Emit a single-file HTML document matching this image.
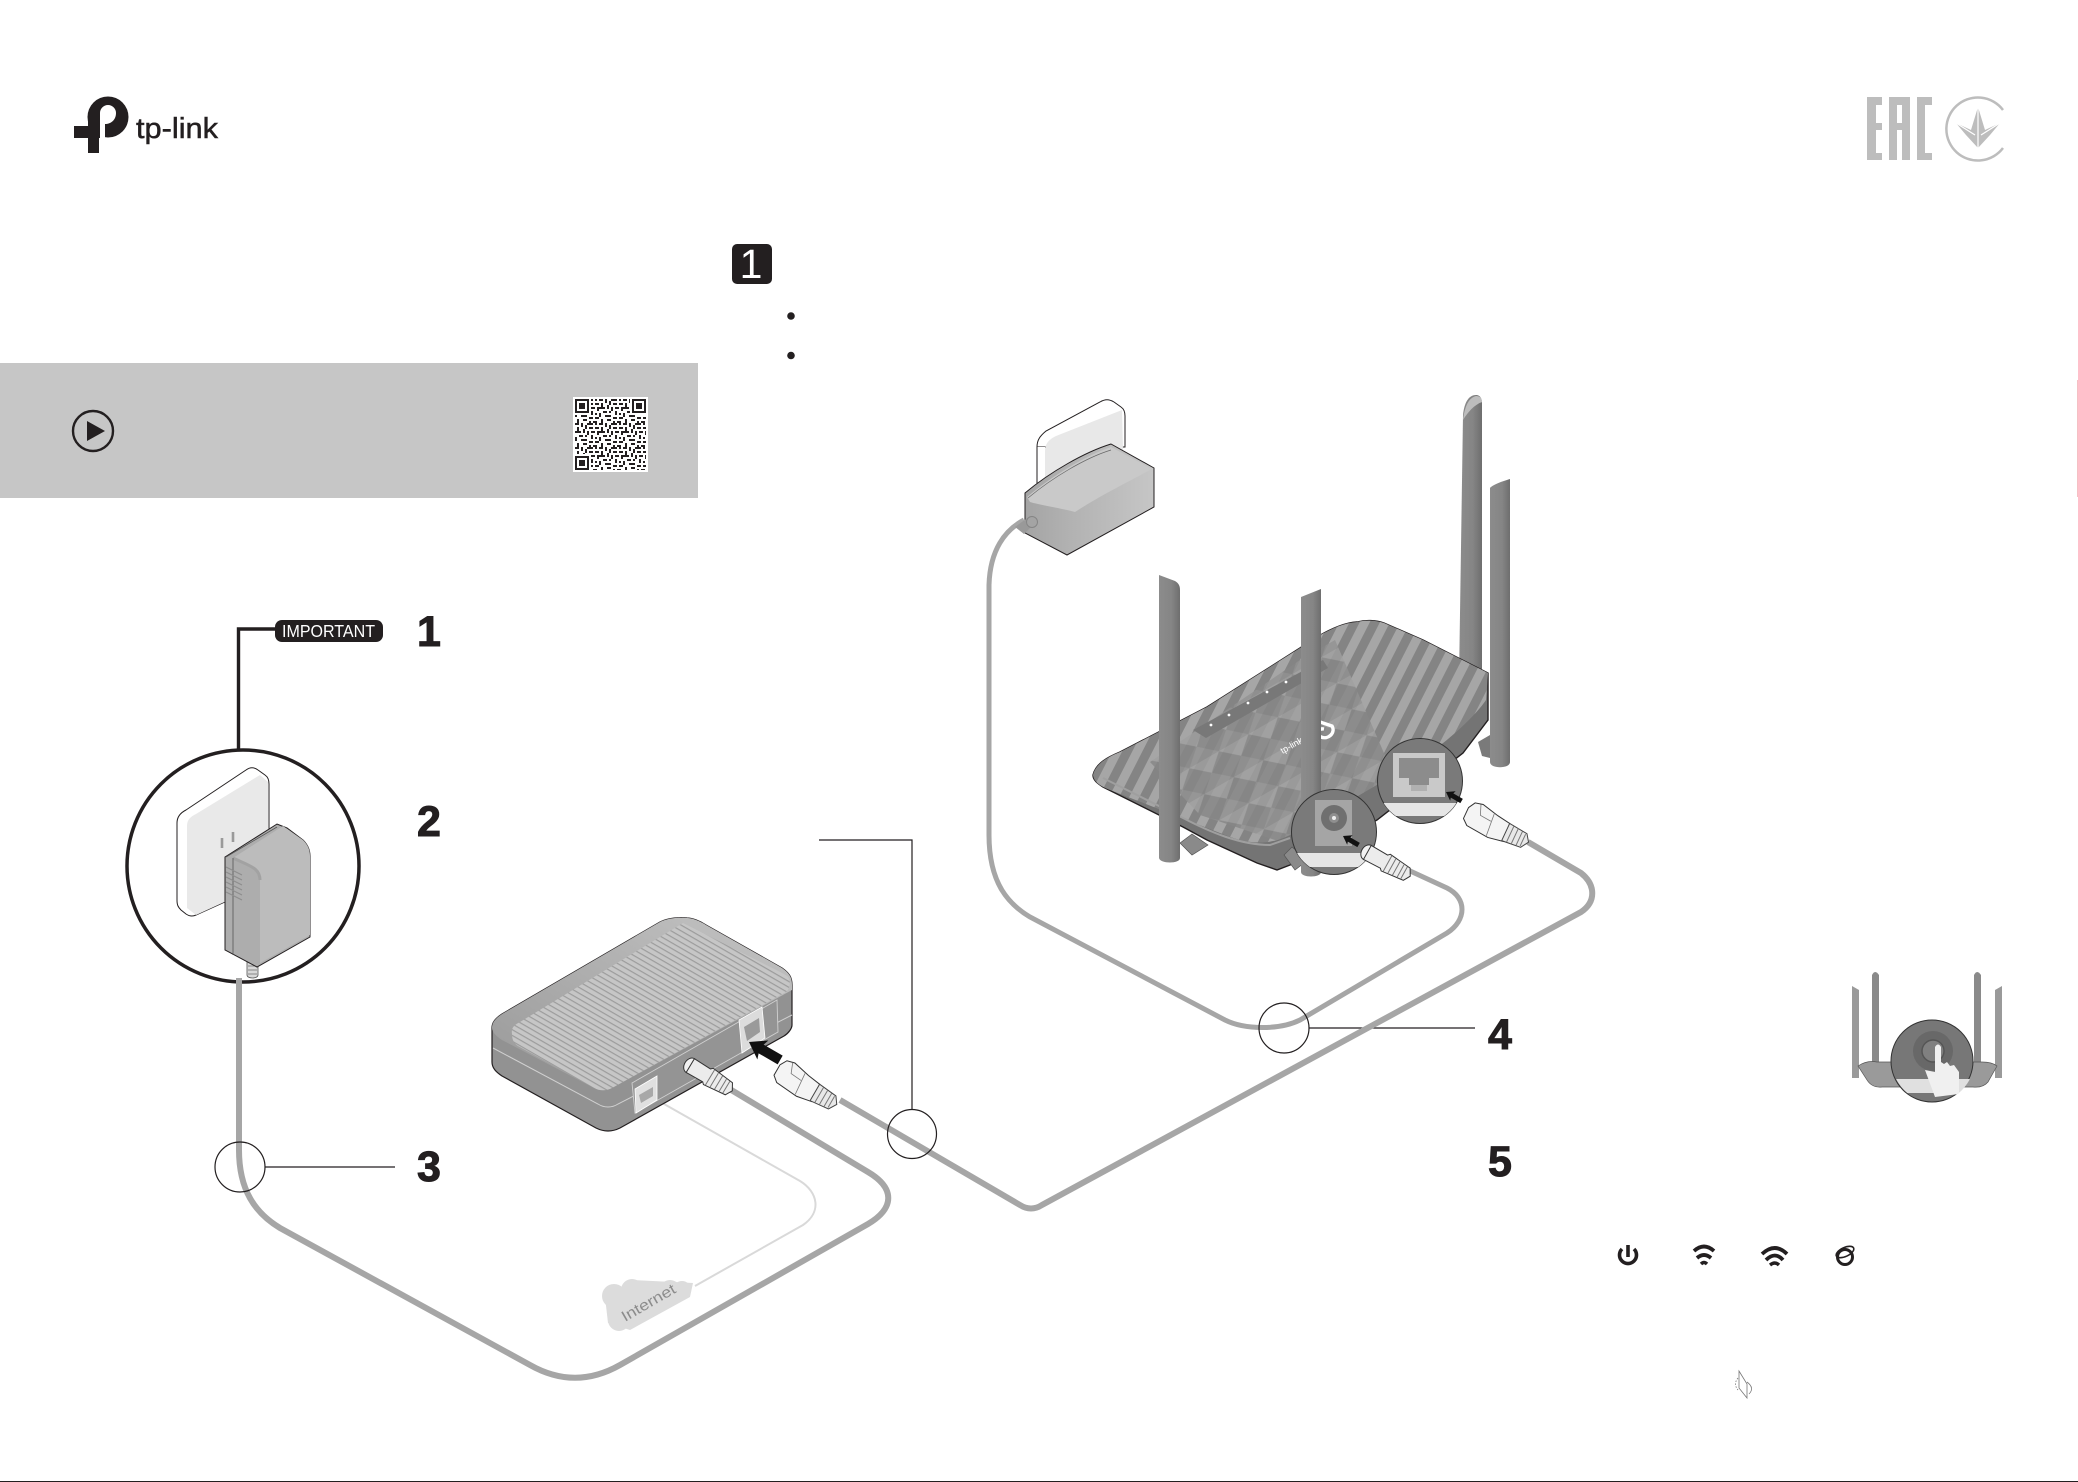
<!DOCTYPE html>
<html><head><meta charset="utf-8">
<style>html,body{margin:0;padding:0;background:#fff}svg{display:block}text{font-family:"Liberation Sans",sans-serif}</style>
</head><body>
<svg xmlns="http://www.w3.org/2000/svg" width="2078" height="1482" viewBox="0 0 2078 1482">
<defs>
<linearGradient id="ant" x1="0" x2="1" y1="0" y2="0"><stop offset="0" stop-color="#8c8c8c"/><stop offset=".6" stop-color="#858585"/><stop offset="1" stop-color="#6e6e6e"/></linearGradient>
<linearGradient id="modTop" x1="0" x2="1" y1="1" y2="0"><stop offset="0" stop-color="#989898"/><stop offset="1" stop-color="#c4c4c4"/></linearGradient>
<linearGradient id="adp" x1="0" x2="1" y1="0" y2="0"><stop offset="0" stop-color="#a4a4a4"/><stop offset=".35" stop-color="#b2b2b2"/><stop offset="1" stop-color="#c6c6c6"/></linearGradient>
<pattern id="stripes" width="18" height="18" patternUnits="userSpaceOnUse" patternTransform="rotate(27)"><rect width="18" height="18" fill="#848484"/><rect width="9" height="18" fill="#a6a6a6"/></pattern>
<pattern id="facets" width="34" height="30" patternUnits="userSpaceOnUse" patternTransform="rotate(-30)"><rect width="34" height="30" fill="#929292"/><path d="M0 0L17 15L0 30ZM34 0L17 15L34 30Z" fill="#868686"/><path d="M17 15L34 0H0Z" fill="#a0a0a0"/></pattern>
<pattern id="ribs" width="12" height="5" patternUnits="userSpaceOnUse" patternTransform="rotate(30)"><rect width="12" height="5" fill="#c6c6c6"/><rect y="0" width="12" height="1.2" fill="#9c9c9c"/></pattern>
<pattern id="qr" x="575" y="399" width="24" height="24" patternUnits="userSpaceOnUse"><path d="M0 0h4v2h-4zM6 0h2v4h-2zM12 0h6v2h-6zM20 0h2v2h-2zM2 4h2v4h-2zM10 2h2v4h-2zM14 4h4v2h-4zM20 4h4v2h-4zM0 8h6v2h-6zM8 6h2v4h-2zM12 8h2v4h-2zM16 8h4v2h-4zM22 8h2v4h-2zM4 12h4v2h-4zM10 12h2v2h-2zM16 12h2v4h-2zM20 14h2v2h-2zM0 14h2v4h-2zM6 16h6v2h-6zM14 18h4v2h-4zM20 18h4v2h-4zM2 20h2v4h-2zM8 20h4v2h-4zM14 22h2v2h-2zM18 22h4v2h-4z" fill="#231f20"/></pattern>
<clipPath id="rTop"><path d="M1093,775C1096,763 1108,757 1120,752L1207,707L1300,648C1320,634 1340,623 1357,622C1365,620 1376,620 1384,623L1423,640L1488,673L1486,700C1476,715 1450,740 1420,760L1290,835C1270,845 1250,845 1225,835L1110,790C1100,786 1094,782 1093,775Z"/></clipPath>
<clipPath id="cR"><circle cx="1420" cy="781" r="42.5"/></clipPath>
<clipPath id="cJ"><circle cx="1334" cy="832" r="42.5"/></clipPath>
<clipPath id="cS"><circle cx="1933" cy="1061" r="41"/></clipPath>
<g id="arrow"><path d="M0,0L16,-11L14,-5L36,-5L36,5L14,5L16,11Z" fill="#111"/></g>
<g id="rj">
<path d="M0,-6L4,-13L12,-15L30,-11L44,-9L46,10L30,13L6,11L0,6Z" fill="#f4f4f4" stroke="#333" stroke-width="1"/>
<path d="M26,-11L28,12M10,-14L14,-4L26,-3" fill="none" stroke="#777" stroke-width=".8"/>
<path d="M44,-9L64,-7L69,0L64,8L44,10Z" fill="#e8e8e8" stroke="#444" stroke-width="1"/>
<path d="M49,-8V9M54,-8V9M59,-7V8M63,-6V7" stroke="#777" stroke-width="1"/>
</g>
<g id="barrel">
<ellipse cx="5" cy="0" rx="6" ry="8" fill="#f2f2f2" stroke="#333" stroke-width="1"/>
<path d="M5,-8L24,-7.5L26,-9.5L50,-7L54,0L50,7L26,9.5L24,7.5L5,8Z" fill="#ececec" stroke="#333" stroke-width="1"/>
<path d="M28,-9V9M33,-8V8M38,-8V8M43,-7V7M47,-7V7" stroke="#777" stroke-width="1"/>
</g>
</defs>
<rect width="2078" height="1482" fill="#fff"/>

<!-- logo -->
<circle cx="108" cy="117" r="20.5" fill="#231f20"/>
<path d="M88,117H100V138H88Z" fill="#231f20"/>
<path d="M100,139V113A8,8 0 0 1 116,113C116,120 111,124 105,124V139Z" fill="#fff"/>
<path d="M74,126H99V138H99V153H88V138H74Z" fill="#231f20"/>
<text x="136" y="138" font-size="29" textLength="82" lengthAdjust="spacingAndGlyphs" fill="#231f20" stroke="#231f20" stroke-width=".5">tp-link</text>

<!-- certification marks -->
<g fill="#bdbdbd">
<path d="M1867,97H1882V105H1876V123H1882V130H1876V153H1882V160H1867Z"/>
<path d="M1889,97H1910V160H1902V130H1897V160H1889ZM1897,105V123H1902V105Z" fill-rule="evenodd"/>
<path d="M1917,97H1932V105H1925V153H1932V160H1917Z"/>
<path d="M1978,107L1985,130L2000,123L1990,135L1978,148L1966,135L1956,123L1971,130Z"/>
</g>
<path d="M2003,110A31.5,31.5 0 1 0 2003,148" fill="none" stroke="#bdbdbd" stroke-width="2.5"/>
<path d="M1978,107V148M1956,123L1975,135M2000,123L1981,135" stroke="#fff" stroke-width="1.2" fill="none"/>

<!-- grey panel -->
<rect x="0" y="363" width="698" height="135" fill="#c6c6c6"/>
<circle cx="93" cy="431" r="20" fill="none" stroke="#231f20" stroke-width="2.4"/>
<path d="M87,421L105,431L87,441Z" fill="#231f20"/>
<rect x="573" y="397" width="75" height="75" fill="#fff"/>
<rect x="575" y="399" width="71" height="71" fill="url(#qr)"/>
<g fill="#fff"><rect x="574" y="398" width="17" height="17"/><rect x="630" y="398" width="17" height="17"/><rect x="574" y="454" width="17" height="17"/></g>
<g fill="none" stroke="#231f20" stroke-width="2"><rect x="576" y="400" width="12" height="12"/><rect x="633" y="400" width="12" height="12"/><rect x="576" y="457" width="12" height="12"/></g>
<g fill="#231f20"><rect x="579" y="403" width="6" height="6"/><rect x="636" y="403" width="6" height="6"/><rect x="579" y="460" width="6" height="6"/></g>

<!-- step badge -->
<rect x="732" y="244" width="40" height="40" rx="5" fill="#231f20"/>
<text x="751" y="278" font-size="41" fill="#fff" text-anchor="middle">1</text>
<circle cx="791" cy="316" r="3.8" fill="#231f20"/>
<circle cx="791" cy="355.5" r="3.8" fill="#231f20"/>

<!-- numbers -->
<g font-size="43" font-weight="700" fill="#231f20" text-anchor="middle" stroke="#231f20" stroke-width="1">
<text x="429" y="646">1</text>
<text x="429" y="836">2</text>
<text x="429" y="1181">3</text>
<text x="1500" y="1049">4</text>
<text x="1500" y="1176">5</text>
</g>

<!-- important label and zoom circle -->
<path d="M275,629H238.5V750" fill="none" stroke="#231f20" stroke-width="3.4"/>
<rect x="275" y="620" width="108" height="22" rx="7" fill="#231f20"/>
<text x="282" y="637" font-size="17.5" fill="#fff" textLength="93" lengthAdjust="spacingAndGlyphs">IMPORTANT</text>
<circle cx="243" cy="866" r="116" fill="#fff" stroke="#231f20" stroke-width="3.5"/>
<path d="M177,823C177,817 180,813 186,810L246,770C250,767 254,767 258,770L265,775C268,777 269,780 269,784V882L196,915C192,917 189,916 186,914L181,910C178,907 177,905 177,900Z" fill="#fff" stroke="#231f20" stroke-width="1"/>
<path d="M187,826C187,820 190,817 196,814L260,775L268,782V882L196,915L187,908Z" fill="#e9e9e9"/>
<path d="M222,838V848M233,832V842" stroke="#9a9a9a" stroke-width="2.6"/>
<path d="M247,962H258V975C258,979 247,979 247,975Z" fill="#d8d8d8" stroke="#555" stroke-width=".8"/>
<path d="M248,966H257M248,970H257M248,974H257" stroke="#888" stroke-width="1"/>
<path d="M225,857L277,824L287,828L303,840C308,845 310,850 310,856V937L257,967L225,950Z" fill="#adadad" stroke="#231f20" stroke-width="1"/>
<path d="M233,858L283,826L303,840C308,845 310,850 310,856V935L260,963V880C260,868 250,866 233,858Z" fill="#bcbcbc"/>
<path d="M233,858C250,866 260,868 260,880" fill="none" stroke="#a2a2a2" stroke-width="3"/>
<path d="M233,858V955M226,857L277,827" fill="none" stroke="#555" stroke-width=".8"/>
<path d="M226,867L242,875M226,872L242,880M226,877L242,885M226,882L242,890M226,887L242,895M226,892L242,900" stroke="#8c8c8c" stroke-width="1"/>

<!-- callouts -->
<path d="M265,1167H395M1309,1028H1475M819,840H912V1110" fill="none" stroke="#231f20" stroke-width="1.2"/>

<!-- internet line and cloud -->
<path d="M657,1100L800,1181C818,1192 822,1212 803,1225L695,1286" fill="none" stroke="#d9d9d9" stroke-width="2"/>
<g fill="#dcdcdc">
<path d="M605,1297L633,1280L693,1283L690,1297L630,1330L608,1323Z"/>
<circle cx="614" cy="1296" r="12"/><circle cx="632" cy="1290" r="11"/><circle cx="670" cy="1291" r="11"/><circle cx="682" cy="1290" r="9"/><circle cx="619" cy="1320" r="11"/>
</g>
<text x="651" y="1307" font-size="15" fill="#8c8c8c" text-anchor="middle" transform="rotate(-30 651 1307)" textLength="60" lengthAdjust="spacingAndGlyphs">Internet</text>

<!-- cables -->
<g fill="none" stroke="#a6a6a6" stroke-linecap="butt">
<path d="M239,978V1150C239,1190 255,1213 280,1228L530,1365C560,1382 590,1382 620,1365L868,1224C895,1208 895,1188 868,1172L728,1088" stroke-width="6"/>
<path d="M840,1100L1020,1205Q1031,1212 1042,1205L1581,912C1596,902 1596,885 1581,873L1528,842" stroke-width="6"/>
<path d="M1024,520C1005,530 990,550 989,585V835C989,885 1010,905 1030,917L1225,1020C1245,1030 1280,1030 1300,1020L1447,933C1467,920 1467,898 1447,888L1408,870" stroke-width="5"/>
</g>
<circle cx="240" cy="1167" r="25" fill="none" stroke="#231f20" stroke-width="1.2"/>
<circle cx="1284" cy="1028" r="25" fill="none" stroke="#231f20" stroke-width="1.2"/>
<circle cx="912" cy="1134" r="24.5" fill="none" stroke="#231f20" stroke-width="1.2"/>

<!-- modem -->
<path d="M492,1028C492,1022 496,1018 502,1014L660,922C668,918 680,917 687,918C692,918 700,921 706,925L782,968C789,973 792,977 792,985V1025C792,1028 789,1033 784,1036L620,1128C612,1132 604,1132 596,1128L502,1076C496,1072 492,1068 492,1062Z" fill="#929292" stroke="#231f20" stroke-width="1.2"/>
<path d="M492,1028C492,1022 496,1018 502,1014L660,922C668,918 680,917 687,918C692,918 700,921 706,925L782,968C789,973 792,977 792,985V990L612,1088C606,1091 600,1091 594,1088L502,1040C496,1036 492,1032 492,1028Z" fill="url(#modTop)"/>
<path d="M512,1034C511,1028 514,1025 520,1022L683,923L786,975C791,978 791,988 786,992L612,1088C606,1091 600,1091 594,1088L518,1046C513,1043 512,1038 512,1034Z" fill="url(#ribs)"/>
<path d="M493,1048L598,1104C604,1108 612,1108 618,1104L792,1015" fill="none" stroke="#d0d0d0" stroke-width="1"/>
<path d="M632,1083L777,1000L778,1032L635,1113Z" fill="#949494" stroke="#d0d0d0" stroke-width=".9"/>
<path d="M739,1020L762,1007L765,1038L742,1053Z" fill="#dcdcdc" stroke="#fff" stroke-width=".8"/>
<path d="M744,1027L759,1018L760,1032L747,1041Z" fill="#9a9a9a"/>
<path d="M635,1089L657,1076V1100L636,1113Z" fill="#e0e0e0" stroke="#fff" stroke-width=".8"/>
<path d="M639,1095L653,1087V1096L641,1103Z" fill="#a8a8a8"/>
<use href="#arrow" transform="translate(749,1042) rotate(30)"/>
<use href="#barrel" transform="translate(686,1063) rotate(31)"/>
<use href="#rj" transform="translate(777,1070) rotate(30)"/>

<!-- top adapter -->
<path d="M1037,447C1037,440 1040,436 1046,431L1100,402C1105,399 1109,399 1114,402L1121,407C1124,409 1125,412 1125,416V447H1037Z" fill="#fff" stroke="#231f20" stroke-width="1"/>
<path d="M1045,452C1045,444 1048,440 1056,436L1122,410L1124,490H1045Z" fill="#e8e8e8"/>
<path d="M1037,447V483H1045V447Z" fill="#fff"/>
<path d="M1037,447V484" stroke="#231f20" stroke-width="1"/>
<path d="M1025,493C1050,472 1085,452 1111,444L1154,468V507L1067,555L1025,533Z" fill="url(#adp)" stroke="#231f20" stroke-width="1"/>
<path d="M1027,497C1052,476 1085,456 1111,447L1152,469C1120,486 1100,496 1075,512C1060,508 1040,505 1030,502Z" fill="#c9c9c9"/>
<path d="M1028,498C1052,478 1085,458 1111,450" fill="none" stroke="#666" stroke-width=".7"/>
<path d="M1015,527L1030,516L1036,522L1024,534Z" fill="#999"/>
<circle cx="1032" cy="522" r="5.5" fill="#a4a4a4" stroke="#858585" stroke-width="1"/>

<!-- back antennas -->
<path d="M1463,415C1464,404 1468,395 1476,395C1481,395 1482,400 1482,404V680H1459Z" fill="url(#ant)"/>
<path d="M1463,420C1465,405 1469,398 1476,396C1480,396 1482,398 1482,402C1474,405 1468,412 1463,420Z" fill="#bdbdbd"/>

<!-- router -->
<path d="M1093,775C1096,763 1108,757 1120,752L1207,707L1300,648C1320,634 1340,623 1357,622C1365,620 1376,620 1384,623L1423,640L1488,673L1488,720L1463,753L1377,820L1303,860L1277,870L1257,863L1207,840L1183,827L1103,787C1097,783 1093,780 1093,775Z" fill="#747474" stroke="#231f20" stroke-width="1.4"/>
<g clip-path="url(#rTop)">
<rect x="1090" y="610" width="420" height="260" fill="url(#stripes)"/>
<path d="M1150,762L1300,660L1335,640L1400,790L1290,845L1200,815Z" fill="url(#facets)" opacity=".8"/>
<path d="M1193,730L1323,660L1328,668L1206,738Z" fill="#787878"/>
</g>
<path d="M1103,778L1183,818C1210,832 1240,845 1270,845L1290,838" fill="none" stroke="#9f9f9f" stroke-width="2"/>
<g fill="#fff"><circle cx="1211" cy="725" r="1.4"/><circle cx="1229" cy="715" r="1.4"/><circle cx="1248" cy="703" r="1.4"/><circle cx="1267" cy="692" r="1.4"/><circle cx="1286" cy="682" r="1.4"/></g>
<path d="M1320,722L1332,726C1336,733 1328,740 1321,737C1316,734 1318,728 1324,729" fill="none" stroke="#fff" stroke-width="3.4"/>
<text x="1293" y="748" font-size="9" fill="#fff" transform="rotate(-30 1293 748)" text-anchor="middle">tp-link</text>
<path d="M1180,843L1192,834L1208,845L1192,855Z" fill="#8a8a8a" stroke="#555" stroke-width=".7"/>
<path d="M1284,855L1292,847L1308,860L1295,870Z" fill="#8a8a8a" stroke="#555" stroke-width=".7"/>
<path d="M1478,742L1490,735V758L1482,756Z" fill="#7a7a7a"/>

<!-- front antennas -->
<path d="M1159,575L1175,581C1178,583 1180,585 1180,590V858C1180,864 1160,864 1159,858Z" fill="url(#ant)"/>
<path d="M1301,597L1321,589V872C1321,878 1301,878 1301,872Z" fill="url(#ant)"/>
<path d="M1490,488C1492,485 1503,481 1510,479V762C1510,769 1490,769 1490,762Z" fill="url(#ant)"/>

<!-- inset R -->
<circle cx="1420" cy="781" r="42.5" fill="#7a7a7a" stroke="#333" stroke-width="1"/>
<g clip-path="url(#cR)">
<rect x="1375" y="803" width="90" height="13" fill="#e6e6e6"/>
<rect x="1393" y="753" width="52" height="44" fill="#c9c9c9"/>
<path d="M1399,758H1439V778H1429V785H1409V778H1399Z" fill="#8c8c8c"/>
<rect x="1411" y="785" width="16" height="6" fill="#b0b0b0"/>
</g>
<use href="#arrow" transform="translate(1446,792) rotate(30) scale(.5)"/>

<!-- inset J -->
<circle cx="1334" cy="832" r="42.5" fill="#7a7a7a" stroke="#333" stroke-width="1"/>
<g clip-path="url(#cJ)">
<rect x="1290" y="853" width="90" height="14" fill="#e6e6e6"/>
<rect x="1315" y="800" width="37" height="46" fill="#a5a5a5"/>
<circle cx="1334" cy="818" r="13" fill="#6f6f6f"/>
<circle cx="1334" cy="818" r="5" fill="#8f8f8f"/>
<circle cx="1334" cy="818" r="2" fill="#eee"/>
</g>
<use href="#arrow" transform="translate(1343,836) rotate(30) scale(.5)"/>
<use href="#barrel" transform="translate(1363,850) rotate(29)"/>
<use href="#rj" transform="translate(1466,813) rotate(25)"/>

<!-- small router -->
<g>
<path d="M1852,986L1859,990V1078H1852Z" fill="#9a9a9a"/>
<path d="M1872,975Q1875,969 1879,975V1078H1872Z" fill="#8a8a8a"/>
<path d="M1974,975Q1977,969 1981,975V1078H1974Z" fill="#8a8a8a"/>
<path d="M1995,990L2002,986V1078H1995Z" fill="#9a9a9a"/>
<path d="M1858,1066Q1867,1060 1877,1062H1982Q1992,1062 1997,1066L1988,1082Q1983,1088 1973,1087H1882Q1872,1088 1867,1080Z" fill="#9a9a9a" stroke="#555" stroke-width=".7"/>
<circle cx="1932" cy="1061" r="41" fill="#777" stroke="#333" stroke-width="1"/>
<g clip-path="url(#cS)">
<rect x="1890" y="1079" width="90" height="14" fill="#e0e0e0"/>
<circle cx="1933" cy="1051" r="20" fill="#686868"/>
<circle cx="1933" cy="1051" r="11" fill="#808080" stroke="#555" stroke-width="1.5"/>
<path d="M1935,1052V1047Q1938,1042 1941,1047V1062L1944,1064L1947,1062L1950,1066L1954,1065L1959,1072V1094L1935,1097L1925,1070L1935,1072Z" fill="#f0f0f0"/>
</g>
</g>

<!-- led icons -->
<g fill="none" stroke="#231f20" stroke-linecap="butt" transform="translate(0,-1)">
<path d="M1622,1250A8.5,8.5 0 1 0 1634,1250" stroke-width="3.6"/>
<path d="M1628,1246V1258" stroke-width="3.6"/>
<path d="M1694,1252Q1704,1243 1714,1252" stroke-width="3.8"/>
<path d="M1697,1259Q1704,1253 1711,1259" stroke-width="3.8"/>
<path d="M1701,1265Q1704,1262 1707,1265" stroke-width="3.4"/>
<path d="M1762,1255Q1775,1243 1787,1255" stroke-width="3.8"/>
<path d="M1766,1261Q1775,1252 1783,1261" stroke-width="3.8"/>
<path d="M1770,1266Q1775,1262 1779,1266" stroke-width="3.4"/>
<circle cx="1845" cy="1258" r="7.5" stroke-width="3"/>
<ellipse cx="1845" cy="1253" rx="9.5" ry="4.5" transform="rotate(-25 1845 1253)" stroke-width="1.6"/>
</g>

<!-- rotate icon -->
<g fill="none" stroke="#777" stroke-width=".8">
<path d="M1739,1371L1747,1384V1398L1739,1388Z"/>
<path d="M1738,1378Q1733,1384 1738,1390" stroke-dasharray="1.5 1.5"/>
<path d="M1747,1382Q1755,1388 1749,1394"/>
</g>

<!-- edge marks -->
<rect x="2077" y="380" width="1" height="117" fill="#f5c0c4"/>
<rect x="0" y="1481" width="2078" height="1" fill="#231f20"/>
</svg>
</body></html>
